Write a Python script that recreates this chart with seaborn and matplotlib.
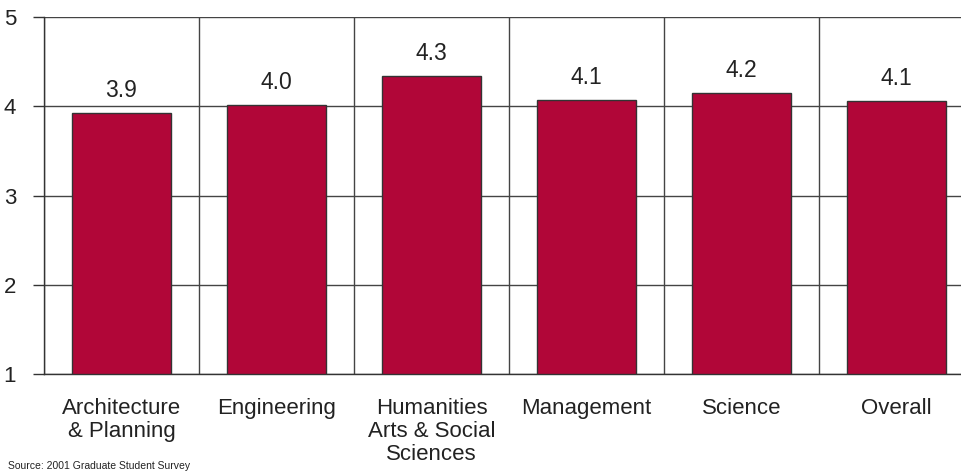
import matplotlib
matplotlib.use("Agg")
import matplotlib.pyplot as plt
import seaborn as sns
import pandas as pd

categories = ["Architecture\n& Planning", "Engineering", "Humanities\nArts & Social\nSciences",
              "Management", "Science", "Overall"]
scores = [3.92, 4.01, 4.34, 4.07, 4.15, 4.06]
value_labels = ["3.9", "4.0", "4.3", "4.1", "4.2", "4.1"]
y_ticks = [1, 2, 3, 4, 5]
source_note = "Source: 2001 Graduate Student Survey"

sns.set_theme(style="white")
plt.rcParams["font.family"] = ["Liberation Sans", "DejaVu Sans"]

df = pd.DataFrame({"school": categories, "score": scores})

fig = plt.figure(figsize=(9.62, 4.73), dpi=100)
ax = fig.add_axes([44 / 962, 1 - 374 / 473, 930 / 962, 357 / 473])

sns.barplot(data=df, x="school", y="score", color="#B10638", saturation=1,
            width=0.645, edgecolor="#333333", linewidth=1.0, ax=ax, zorder=3)

ax.set_ylim(1, 5)
ax.set_xlim(-0.5, len(categories) - 0.5)
ax.set_yticks(y_ticks)
ax.set_yticklabels([str(t) for t in y_ticks], fontsize=16, color="#222222")
ax.set_xticks(range(len(categories)))
ax.set_xticklabels(categories, fontsize=16, color="#222222", linespacing=1.15)
ax.set_xticks([i - 0.5 for i in range(len(categories) + 1)], minor=True)

ax.tick_params(axis="x", which="major", length=0, pad=17)
ax.tick_params(axis="x", which="minor", length=5, width=1.0, color="#333333", direction="out")
ax.tick_params(axis="y", which="major", length=8, width=1.0, color="#333333",
               direction="out", pad=12, left=True)

ax.grid(axis="y", which="major", color="#444444", linewidth=1.0, zorder=1)
ax.grid(axis="x", which="minor", color="#444444", linewidth=1.0, zorder=1)
ax.set_axisbelow(True)

for side in ["top", "right"]:
    ax.spines[side].set_visible(False)
for side in ["left", "bottom"]:
    ax.spines[side].set_color("#333333")
    ax.spines[side].set_linewidth(1.0)
    ax.spines[side].set_zorder(4)

ax.set_xlabel("")
ax.set_ylabel("")

for container in ax.containers:
    ax.bar_label(container, labels=value_labels, padding=8, fontsize=16.5, color="#222222")

fig.text(8 / 962, 2 / 473, source_note, fontsize=7.5, color="#222222", va="bottom", ha="left")

fig.savefig("out.png", dpi=100)
